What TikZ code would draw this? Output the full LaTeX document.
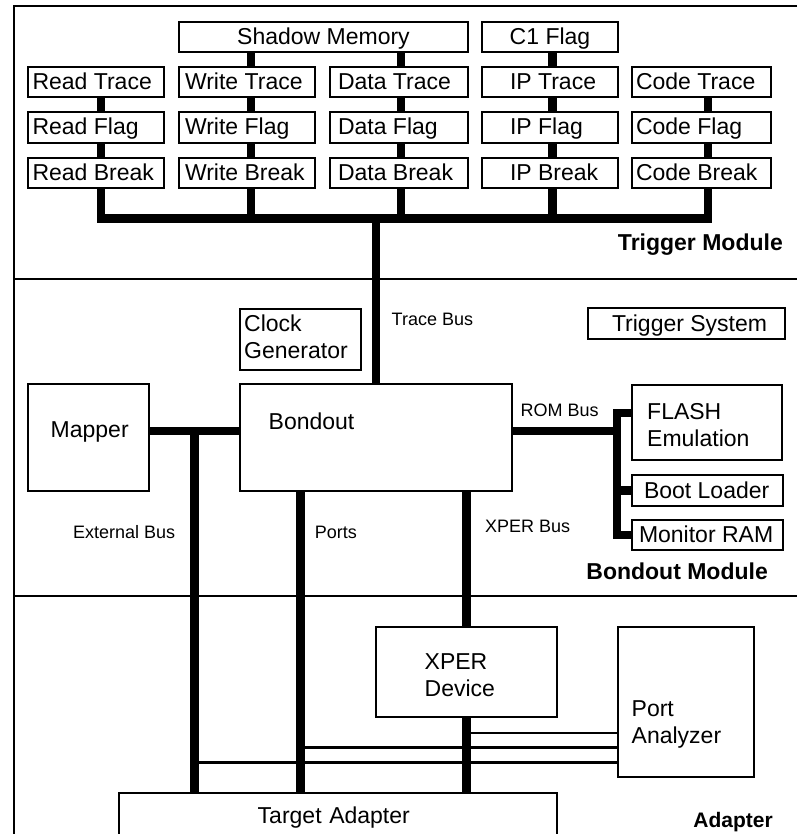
\documentclass[tikz,border=0pt]{standalone}
\usepackage{fontspec}
\setmainfont{Liberation Sans}
\newcommand\fbig{\fontsize{23}{27}\selectfont}
\newcommand\fsml{\fontsize{18}{21}\selectfont}
\newcommand\fmod[1]{\fontsize{#1}{#1}\selectfont\bfseries}
\newcommand\btxt[3]{\makebox[#1pt][l]{\hspace*{#2pt}#3}}
\begin{document}
\begin{tikzpicture}[x=1pt,y=-1pt,
  box/.style={draw,line width=2pt,inner sep=0pt,font=\fbig,text height=15pt,text depth=0pt},
  rowbox/.style={box,minimum width=#1pt,minimum height=30pt},
  bus/.style={line width=8.5pt,line cap=butt,line join=miter},
  wire/.style={line width=2.5pt},
  frameline/.style={line width=2pt},
  txt/.style={inner sep=0pt,anchor=base west,font=\fbig,align=left,text width=200pt},
  lab/.style={inner sep=0pt,anchor=base west,font=\fsml},
  modlab/.style={inner sep=0pt,anchor=base east,font={\fmod{#1}}},
]
\useasboundingbox (0,0) rectangle (797,834);

% frame and dividers
\draw[frameline] (797,6.5) -- (13.5,6.5) -- (13.5,834);
\draw[frameline] (13.5,278.5) -- (797,278.5);
\draw[frameline] (13.5,595.5) -- (797,595.5);

% ---------- Trigger module ----------
\node[rowbox=289] (sm) at (323.5,37) {Shadow Memory};
\node[rowbox=136] (c1) at (550,37) {C1 Flag};

\node[rowbox=136] (rt) at (96,82) {\btxt{136}{4.5}{Read Trace}};
\node[rowbox=136,minimum height=31pt] (rf) at (96,127.5) {\btxt{136}{4.5}{Read Flag}};
\node[rowbox=136] (rb) at (96,173) {\btxt{136}{4.5}{Read Break}};

\node[rowbox=136] (wt) at (247,82) {\btxt{136}{6}{Write Trace}};
\node[rowbox=136,minimum height=31pt] (wf) at (247,127.5) {\btxt{136}{6}{Write Flag}};
\node[rowbox=136] (wb) at (247,173) {\btxt{136}{6}{Write Break}};

\node[rowbox=138] (dt) at (399,82) {\btxt{138}{8}{Data Trace}};
\node[rowbox=138,minimum height=31pt] (df) at (399,127.5) {\btxt{138}{8}{Data Flag}};
\node[rowbox=138] (db) at (399,173) {\btxt{138}{8}{Data Break}};

\node[rowbox=136] (it) at (550,82) {\btxt{136}{28}{IP Trace}};
\node[rowbox=136,minimum height=31pt] (if) at (550,127.5) {\btxt{136}{28}{IP Flag}};
\node[rowbox=136] (ib) at (550,173) {\btxt{136}{28}{IP Break}};

\node[rowbox=139] (ct) at (701.5,82) {\btxt{139}{4}{Code Trace}};
\node[rowbox=139,minimum height=31pt] (cf) at (701.5,127.5) {\btxt{139}{4}{Code Flag}};
\node[rowbox=139] (cb) at (701.5,173) {\btxt{139}{4}{Code Break}};

\node[modlab=23] (mtrig) at (783,250) {Trigger Module};

\coordinate (cR) at (101,0);
\coordinate (cW) at (251,0);
\coordinate (cD) at (401,0);
\coordinate (cI) at (552.5,0);
\coordinate (cC) at (708,0);
\coordinate (tb) at (0,218.5);

% ---------- Bondout module ----------
\node[box,minimum width=121pt,minimum height=61pt] (clk) at (300.5,339.5) {};
\node[txt] (clkt) at (244,331) {Clock\\Generator};
\node[rowbox=197,minimum height=31pt] (trs) at (686.5,323.5) {\btxt{197}{24}{Trigger System}};
\node[box,minimum width=121pt,minimum height=107pt] (mapper) at (88.5,437.5) {};
\node[txt] (mapt) at (50.5,437) {Mapper};
\node[box,minimum width=272pt,minimum height=107pt] (bond) at (376,437.5) {};
\node[txt] (bont) at (268.5,429) {Bondout};
\node[box,minimum width=150pt,minimum height=75pt] (flash) at (707,422.5) {};
\node[txt] (flt) at (647,419) {\fontsize{23}{24}\selectfont FLASH\\Emulation};
\node[rowbox=151,minimum height=31pt] (boot) at (707.5,490.5) {\btxt{151}{12}{Boot Loader}};
\node[rowbox=151] (mon) at (707.5,535) {\btxt{151}{7}{Monitor RAM}};

\node[lab] (ltb) at (391.5,325) {Trace Bus};
\node[lab] (lrom) at (520.5,416) {ROM Bus};
\node[lab] (lxb) at (485,532) {XPER Bus};
\node[lab] (leb) at (73,538) {External Bus};
\node[lab] (lpo) at (314.7,538) {Ports};
\node[modlab=23] (mbond) at (768,579) {Bondout Module};

% ---------- Adapter ----------
\node[box,minimum width=181pt,minimum height=90pt] (xd) at (466.5,672) {};
\node[txt] (xdt) at (424.5,669) {XPER\\Device};
\node[box,minimum width=136pt,minimum height=150pt] (pa) at (686,702) {};
\node[txt] (pat) at (631.5,716) {Port\\Analyzer};
\node[box,minimum width=438pt,minimum height=60pt] (ta) at (338,823) {};
\node[txt] (tat) at (257.5,823) {Target Adapter};
\node[modlab=21] (madp) at (773,827) {Adapter};

\coordinate (cE) at (194.5,431);
\coordinate (cP) at (300.5,0);
\coordinate (yA) at (0,733);
\coordinate (yB) at (0,747.5);
\coordinate (yC) at (0,762.5);
\coordinate (rv) at (617,431);
\coordinate (yF) at (0,413);

% thin port lines
\draw[wire] (xd.south |- yA) -- (pa.west |- yA);
\draw[wire] (cP |- yB) -- (pa.west |- yB);
\draw[wire] (cE |- yC) -- (pa.west |- yC);

% trigger buses
\draw[bus] (sm.south -| cW) -- (wt.north -| cW);
\draw[bus] (sm.south -| cD) -- (dt.north -| cD);
\draw[bus] (c1.south -| cI) -- (it.north -| cI);
\foreach \c/\t/\f/\b in {cR/rt/rf/rb, cW/wt/wf/wb, cD/dt/df/db, cI/it/if/ib, cC/ct/cf/cb}{
  \draw[bus] (\t.south -| \c) -- (\f.north -| \c);
  \draw[bus] (\f.south -| \c) -- (\b.north -| \c);
}
\draw[bus] (rb.south -| cR) -- (cR |- tb) -- (cC |- tb) -- (cb.south -| cC);
\draw[bus] (wb.south -| cW) -- (cW |- tb);
\draw[bus] (db.south -| cD) -- (cD |- tb);
\draw[bus] (ib.south -| cI) -- (cI |- tb);
\draw[bus] (bond.north |- tb) -- (bond.north);

% bondout buses
\draw[bus] (mapper.east |- cE) -- (bond.west |- cE);
\draw[bus] (cE) -- (cE |- ta.north);
\draw[bus] (cP |- bond.south) -- (cP |- ta.north);
\draw[bus] (xd.north |- bond.south) -- (xd.north);
\draw[bus] (xd.south) -- (xd.south |- ta.north);
\draw[bus] (bond.east |- rv) -- (rv);
\draw[bus] (flash.west |- yF) -- (rv |- yF) -- (rv |- mon.west) -- (mon.west);
\draw[bus] (rv |- boot.west) -- (boot.west);
\end{tikzpicture}
\end{document}
